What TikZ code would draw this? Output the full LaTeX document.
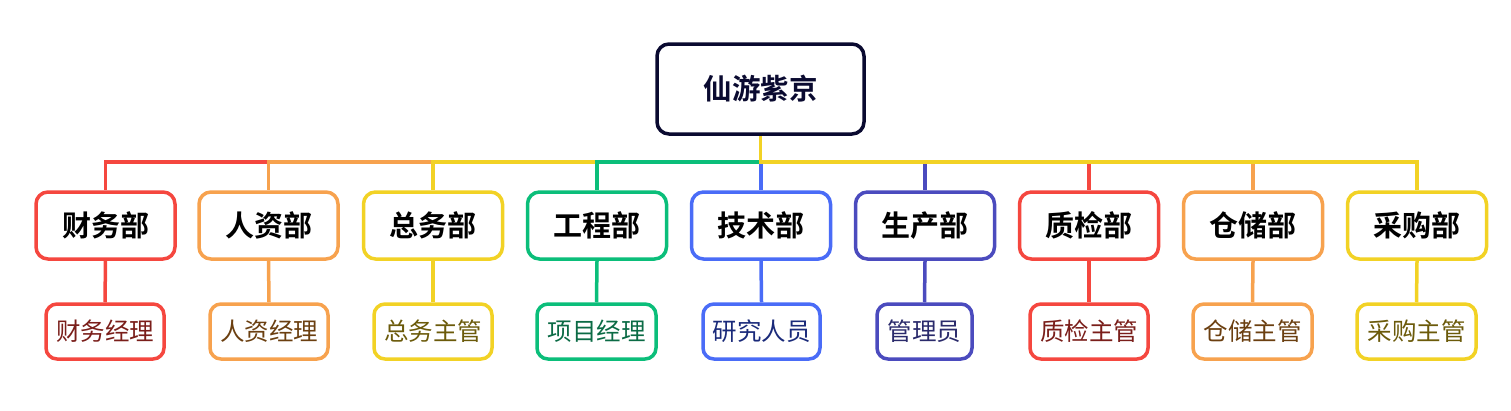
\documentclass[tikz,border=0pt]{standalone}
\usepackage{fontspec}
\newfontfamily\cjk{Noto Sans CJK SC}
\newfontfamily\cjkb{Noto Sans CJK SC Bold}
\usetikzlibrary{backgrounds}
\definecolor{cRoot}{HTML}{0A0A30}
\definecolor{cRed}{HTML}{F5473F}
\definecolor{cOrange}{HTML}{F7A24E}
\definecolor{cYellow}{HTML}{F2D225}
\definecolor{cGreen}{HTML}{0BBE7A}
\definecolor{cBlue}{HTML}{4A6CF7}
\definecolor{cPurple}{HTML}{4B4BBE}
\definecolor{tRed}{HTML}{7A1E1A}
\definecolor{tOrange}{HTML}{6B3F10}
\definecolor{tYellow}{HTML}{6B5A0A}
\definecolor{tGreen}{HTML}{0B6B45}
\definecolor{tBlue}{HTML}{1A2A7A}
\definecolor{tPurple}{HTML}{2A2A6B}
\tikzset{
  rootbox/.style={draw=cRoot, line width=3.5pt, rounded corners=12pt, fill=white,
    minimum width=207pt, minimum height=90pt, inner sep=0pt,
    font=\cjkb\fontsize{28.5}{31}\selectfont, text=cRoot},
  deptbox/.style={draw=#1, line width=3.5pt, rounded corners=12pt, fill=white,
    minimum width=139pt, minimum height=67pt, inner sep=0pt,
    font=\cjkb\fontsize{29}{32}\selectfont, text=black},
  subbox/.style={draw=#1, line width=3.5pt, rounded corners=11pt, fill=white,
    minimum height=55pt, inner sep=0pt, font=\cjk\fontsize{24.5}{27}\selectfont},
  link/.style={draw=#1, line width=3.5pt},
}
\begin{document}
\begin{tikzpicture}[x=1pt,y=-1pt]
\useasboundingbox (0,0) rectangle (1511,410);
\node[rootbox] (root) at (760.5,89) {仙游紫京};
% departments
\node[deptbox=cRed]    (d1) at (105.5,225.5) {财务部};
\node[deptbox=cOrange] (d2) at (268.5,225.5) {人资部};
\node[deptbox=cYellow] (d3) at (433,225.5) {总务部};
\node[deptbox=cGreen]  (d4) at (597,225.5) {工程部};
\node[deptbox=cBlue]   (d5) at (761,225.5) {技术部};
\node[deptbox=cPurple] (d6) at (925,225.5) {生产部};
\node[deptbox=cRed]    (d7) at (1089,225.5) {质检部};
\node[deptbox=cOrange] (d8) at (1253,225.5) {仓储部};
\node[deptbox=cYellow] (d9) at (1417,225.5) {采购部};
% sub roles
\node[subbox=cRed, text=tRed, minimum width=118pt]       (s1) at (105,331.5) {财务经理};
\node[subbox=cOrange, text=tOrange, minimum width=118pt] (s2) at (269,331.5) {人资经理};
\node[subbox=cYellow, text=tYellow, minimum width=118pt] (s3) at (433,331.5) {总务主管};
\node[subbox=cGreen, text=tGreen, minimum width=119pt]   (s4) at (596.5,331.5) {项目经理};
\node[subbox=cBlue, text=tBlue, minimum width=117pt]     (s5) at (761.5,331.5) {研究人员};
\node[subbox=cPurple, text=tPurple, minimum width=95pt]   (s6) at (924.5,331.5) {管理员};
\node[subbox=cRed, text=tRed, minimum width=118pt]       (s7) at (1089,331.5) {质检主管};
\node[subbox=cOrange, text=tOrange, minimum width=119pt] (s8) at (1252.5,331.5) {仓储主管};
\node[subbox=cYellow, text=tYellow, minimum width=119pt] (s9) at (1416.5,331.5) {采购主管};
% connectors (drawn in order so later ones overlap), behind the boxes
\begin{scope}[on background layer]
\foreach \d/\c in {d1/cRed,d2/cOrange,d3/cYellow,d4/cGreen,d5/cBlue,d6/cPurple,d7/cRed,d8/cOrange,d9/cYellow}{
  \draw[link=\c] (root.south) -- ++(0,26) -| (\d.north);
}
\foreach \i/\c in {1/cRed,2/cOrange,3/cYellow,4/cGreen,5/cBlue,6/cPurple,7/cRed,8/cOrange,9/cYellow}{
  \draw[link=\c] (d\i.south) -- (s\i.north);
}
\end{scope}
\end{tikzpicture}
\end{document}
